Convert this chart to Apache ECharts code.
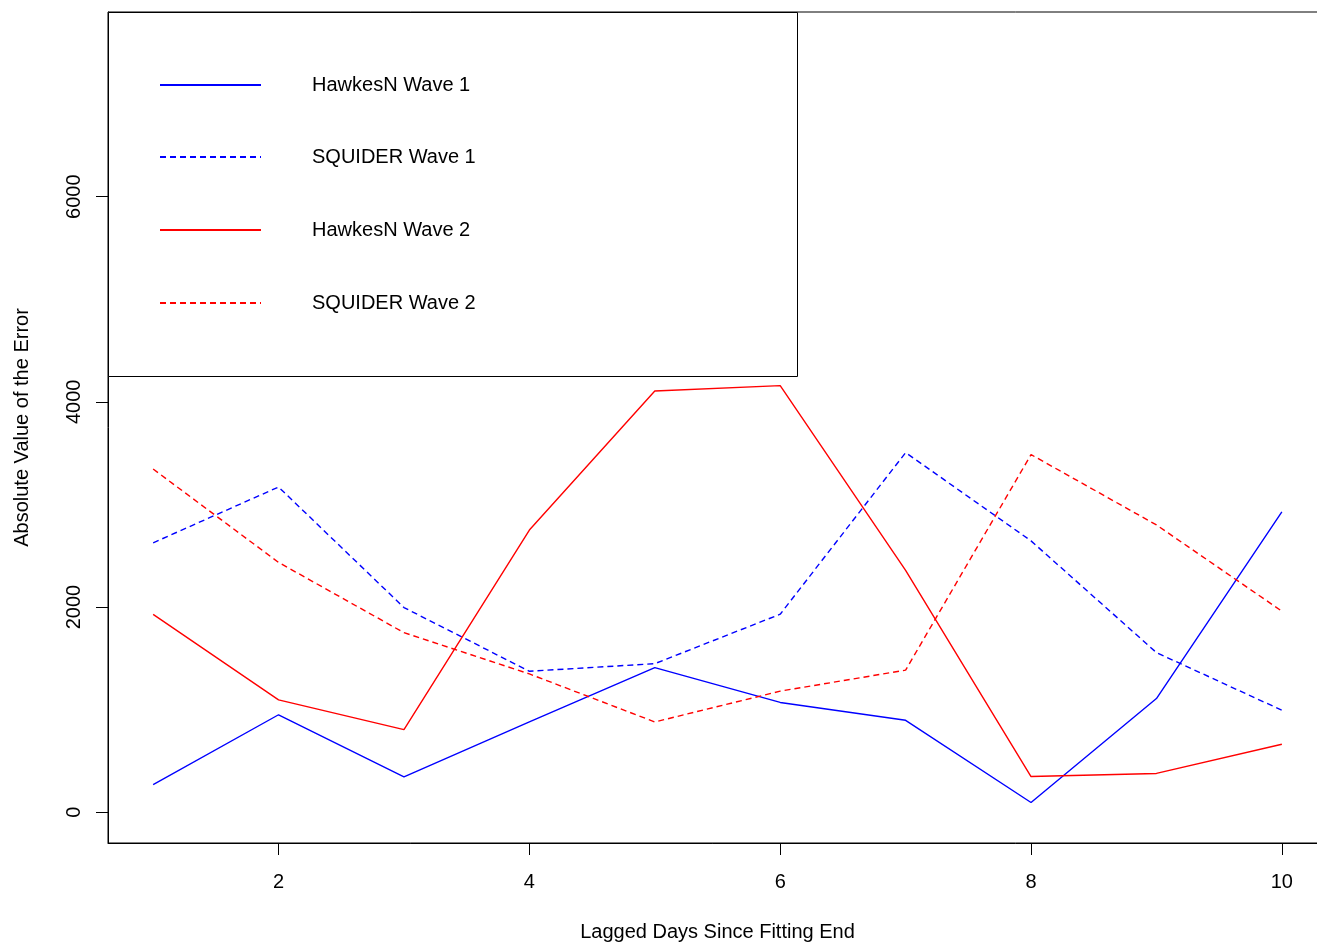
<!DOCTYPE html>
<html>
<head>
<meta charset="UTF-8">
<title>Absolute error by lagged day</title>
<script src="https://cdn.jsdelivr.net/npm/echarts@6/dist/echarts.min.js"></script>
<style>
  html, body { margin: 0; padding: 0; background: #fff; }
  #chart { width: 1317px; height: 944px; }
</style>
</head>
<body>
<div id="chart"></div>
<script>
// lagged days since fitting end
var days = [1, 2, 3, 4, 5, 6, 7, 8, 9, 10];

// absolute value of the error
var hawkesW1  = [270, 950, 345, 880, 1410, 1070, 896, 95, 1108, 2928];
var squiderW1 = [2626, 3170, 1995, 1374, 1448, 1930, 3505, 2645, 1556, 994];
var hawkesW2  = [1929, 1095, 805, 2750, 4106, 4158, 2358, 348, 378, 662];
var squiderW2 = [3345, 2435, 1750, 1348, 880, 1180, 1385, 3486, 2800, 1960];

var xTicks = [2, 4, 6, 8, 10];
var yTicks = [0, 2000, 4000, 6000];

var names = ['HawkesN Wave 1', 'SQUIDER Wave 1', 'HawkesN Wave 2', 'SQUIDER Wave 2'];
var colors = ['#0000ff', '#0000ff', '#ff0000', '#ff0000'];
var dashed = [false, true, false, true];
var values = [hawkesW1, squiderW1, hawkesW2, squiderW2];

var FONT = 'Liberation Sans';

function pairs(ys) {
  return days.map(function (d, i) { return [d, ys[i]]; });
}

var series = [];
var legends = [];
var legendTops = [85, 157, 230, 303];
for (var i = 0; i < names.length; i++) {
  series.push({
    name: names[i],
    type: 'line',
    data: pairs(values[i]),
    symbol: 'none',
    silent: true,
    animation: false,
    lineStyle: {
      color: colors[i],
      width: 1.4,
      type: dashed[i] ? [6, 4] : 'solid'
    },
    itemStyle: { color: colors[i] }
  });
  legends.push({
    data: [names[i]],
    left: 159,
    top: legendTops[i] - 10,
    padding: 0,
    itemWidth: 101,
    itemHeight: 20,
    selectedMode: false,
    itemStyle: { color: 'transparent', borderWidth: 0, opacity: 0 },
    textStyle: {
      fontFamily: FONT,
      fontSize: 20,
      color: '#000',
      padding: [0, 0, 0, 46]
    }
  });
}

var chart = echarts.init(document.getElementById('chart'));
chart.setOption({
  backgroundColor: '#fff',
  animation: false,
  grid: {
    left: 108,
    top: 12,
    width: 1219,
    height: 831,
    outerBoundsMode: 'none',
    containLabel: false,
    show: true,
    borderColor: '#000',
    borderWidth: 1,
    backgroundColor: 'transparent'
  },
  legend: legends,
  graphic: [{
    type: 'rect',
    shape: { x: 108.5, y: 12.5, width: 689, height: 364 },
    style: { fill: '#fff', stroke: '#000', lineWidth: 1 },
    z: 3
  }],
  xAxis: {
    type: 'value',
    min: 0.64,
    max: 10.36,
    name: 'Lagged Days Since Fitting End',
    nameLocation: 'middle',
    nameGap: 79,
    nameTextStyle: { fontFamily: FONT, fontSize: 20, color: '#000' },
    axisLine: { show: true, onZero: false, lineStyle: { color: '#000', width: 1 } },
    axisTick: { show: true, inside: false, length: 12, customValues: xTicks, lineStyle: { color: '#000' } },
    axisLabel: { customValues: xTicks, margin: 29, fontFamily: FONT, fontSize: 20, color: '#000' },
    splitLine: { show: false }
  },
  yAxis: {
    type: 'value',
    min: -300,
    max: 7800,
    name: 'Absolute Value of the Error',
    nameLocation: 'middle',
    nameGap: 76,
    nameRotate: 90,
    nameTextStyle: { fontFamily: FONT, fontSize: 20, color: '#000' },
    axisLine: { show: true, onZero: false, lineStyle: { color: '#000', width: 1 } },
    axisTick: { show: true, inside: false, length: 12, customValues: yTicks, lineStyle: { color: '#000' } },
    axisLabel: {
      customValues: yTicks,
      rotate: 90,
      margin: 24,
      fontFamily: FONT,
      fontSize: 20,
      color: '#000',
      formatter: function (v) { return String(v); }
    },
    splitLine: { show: false }
  },
  series: series
});
</script>
</body>
</html>
